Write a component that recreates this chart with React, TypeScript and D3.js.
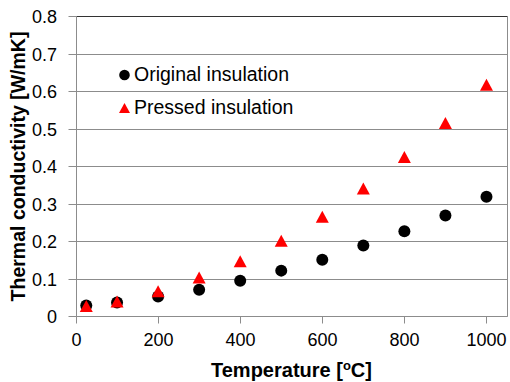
import React from 'react';
import { scaleLinear, symbol, symbolCircle } from 'd3';

const temperatures = [25, 100, 200, 300, 400, 500, 600, 700, 800, 900, 1000];
const originalValues = [0.028, 0.036, 0.052, 0.07, 0.094, 0.121, 0.15, 0.188, 0.226, 0.268, 0.318];
const pressedValues = [0.027, 0.039, 0.066, 0.103, 0.146, 0.201, 0.265, 0.34, 0.424, 0.515, 0.617];
const xTicks = [0, 200, 400, 600, 800, 1000];
const yTicks = [0, 0.1, 0.2, 0.3, 0.4, 0.5, 0.6, 0.7, 0.8];
const seriesNames = ['Original insulation', 'Pressed insulation'];

// triangle centred on half its height, like the spreadsheet marker
const triangle = (w: number, h: number) => `M0,${-h / 2}L${w / 2},${h / 2}L${-w / 2},${h / 2}Z`

const App = () => {
    const width = 510
    const height = 382
    const marginLeft = 76
    const marginRight = 3
    const marginTop = 16
    const marginBottom = 66
    const font = '"Liberation Sans", Arial, sans-serif'

    const xScale = scaleLinear()
        .domain([0, 1050])
        .range([marginLeft, width - marginRight])

    const yScale = scaleLinear()
        .domain([0, 0.8])
        .range([height - marginBottom, marginTop])

    const circlePath = symbol().type(symbolCircle).size(Math.PI * 36)()
    const smallCircle = symbol().type(symbolCircle).size(Math.PI * 28)()

    const crisp = (v: number) => Math.round(v) + 0.5
    const x0 = crisp(xScale(0))
    const x1 = crisp(xScale(1050))
    const y0 = crisp(yScale(0))
    const y1 = crisp(yScale(0.8))

    return (
        <svg width={width} height={height} style={{ position: 'absolute', left: 0, top: 0, background: '#fff' }}>
            {/* gridlines */}
            {yTicks.map(t =>
                <line
                    key={`grid-${t}`}
                    x1={x0}
                    x2={x1}
                    y1={crisp(yScale(t))}
                    y2={crisp(yScale(t))}
                    stroke='#8c8c8c'
                />
            )}
            {/* plot border */}
            <line x1={x0} x2={x1} y1={y1} y2={y1} stroke='#333' />
            <line x1={x1} x2={x1} y1={y1} y2={y0} stroke='#8c8c8c' />
            <line x1={x0} x2={x0} y1={y1} y2={y0} stroke='#8c8c8c' />
            <line x1={x0} x2={x1} y1={y0} y2={y0} stroke='#8c8c8c' />

            {/* y axis */}
            {yTicks.map(t =>
                <g key={`y-${t}`} transform={`translate(0, ${crisp(yScale(t))})`}>
                    <line x1={x0 - 8} x2={x0} stroke='#8c8c8c' />
                    <text
                        x={57}
                        dy='0.35em'
                        textAnchor='end'
                        fontFamily={font}
                        fontSize={18}
                        fill='#000'
                    >
                        {t === 0 ? '0' : t.toFixed(1)}
                    </text>
                </g>
            )}

            {/* x axis */}
            {xTicks.map(t =>
                <g key={`x-${t}`} transform={`translate(${crisp(xScale(t))}, 0)`}>
                    <line y1={y0} y2={y0 + 7} stroke='#8c8c8c' />
                    <text
                        y={340}
                        dy='0.35em'
                        textAnchor='middle'
                        fontFamily={font}
                        fontSize={18}
                        fill='#000'
                    >
                        {t}
                    </text>
                </g>
            )}

            {/* series */}
            {temperatures.map((t, i) =>
                <path
                    key={`orig-${t}`}
                    d={circlePath}
                    transform={`translate(${xScale(t)}, ${yScale(originalValues[i])})`}
                    fill='#000'
                />
            )}
            {temperatures.map((t, i) =>
                <path
                    key={`press-${t}`}
                    d={triangle(13, 12)}
                    transform={`translate(${xScale(t)}, ${yScale(pressedValues[i])})`}
                    fill='#ff0000'
                />
            )}

            {/* legend */}
            <path d={smallCircle} transform='translate(124.5, 75)' fill='#000' />
            <text x={134} y={81} fontFamily={font} fontSize={19.5} fill='#000'>{seriesNames[0]}</text>
            <path d={triangle(11, 10)} transform='translate(124.5, 108)' fill='#ff0000' />
            <text x={134} y={114} fontFamily={font} fontSize={19.5} fill='#000'>{seriesNames[1]}</text>

            {/* axis titles */}
            <text
                x={(marginLeft + width - marginRight) / 2}
                y={377}
                textAnchor='middle'
                fontFamily={font}
                fontSize={20}
                fontWeight='bold'
                fill='#000'
            >
                Temperature [<tspan fontSize={13} dy={-7}>o</tspan><tspan dy={7}>C]</tspan>
            </text>
            <text
                transform={`translate(25, ${(y0 + y1) / 2}) rotate(-90)`}
                textAnchor='middle'
                fontFamily={font}
                fontSize={19.5}
                fontWeight='bold'
                fill='#000'
            >
                Thermal conductivity [W/mK]
            </text>
        </svg>
    )
}

export default App
